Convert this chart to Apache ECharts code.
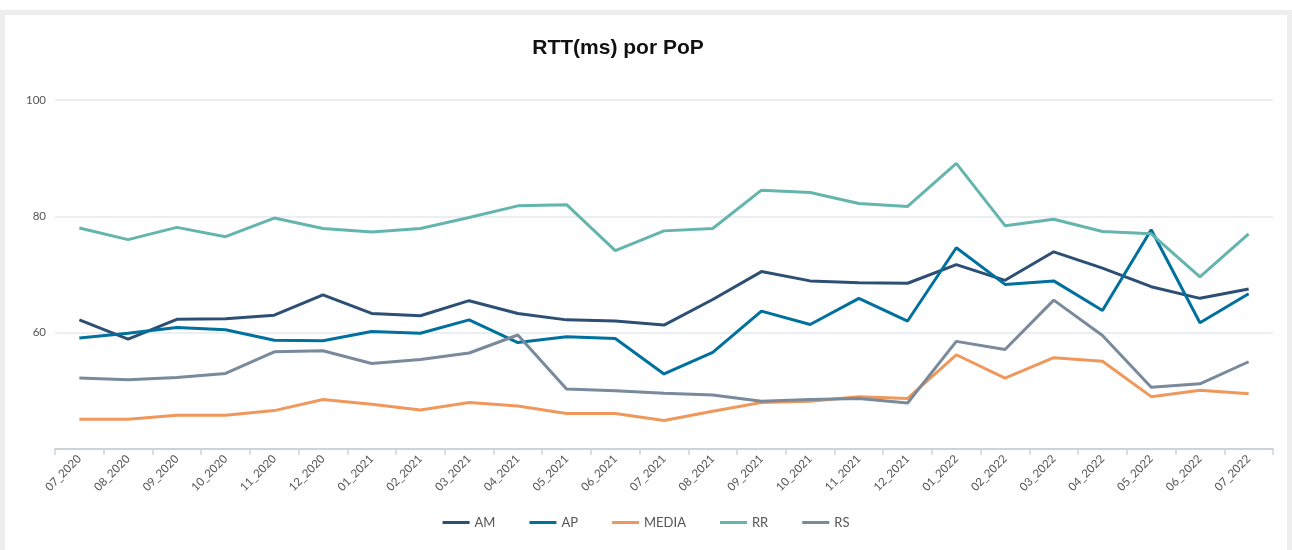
<!DOCTYPE html>
<html>
<head>
<meta charset="utf-8">
<title>RTT(ms) por PoP</title>
<script src="https://cdn.jsdelivr.net/npm/echarts@6/dist/echarts.min.js"></script>
<style>
  html, body { margin: 0; padding: 0; background: #ffffff; }
  #frame {
    position: absolute; left: 0; top: 10px; width: 1292px; height: 540px;
    box-sizing: border-box; border: 5px solid #eeeeee; border-bottom: none;
  }
  #chart { position: absolute; left: 0; top: 0; width: 1292px; height: 550px; }
</style>
</head>
<body>
<div id="frame"></div>
<div id="chart"></div>
<script>
  const months = [
    "07_2020", "08_2020", "09_2020", "10_2020", "11_2020", "12_2020",
    "01_2021", "02_2021", "03_2021", "04_2021", "05_2021", "06_2021",
    "07_2021", "08_2021", "09_2021", "10_2021", "11_2021", "12_2021",
    "01_2022", "02_2022", "03_2022", "04_2022", "05_2022", "06_2022", "07_2022"
  ];

  const am = [62.2, 58.9, 62.3, 62.4, 63.0, 66.5, 63.3, 62.9, 65.5, 63.3, 62.2, 62.0,
    61.3, 65.7, 70.5, 68.9, 68.6, 68.5, 71.7, 69.0, 73.9, 71.1, 67.9, 65.9, 67.5];
  const ap = [59.1, 59.9, 60.9, 60.5, 58.7, 58.6, 60.2, 59.9, 62.2, 58.3, 59.3, 59.0,
    52.9, 56.6, 63.7, 61.4, 65.9, 62.0, 74.6, 68.3, 68.9, 63.8, 77.7, 61.7, 66.7];
  const media = [45.1, 45.1, 45.8, 45.8, 46.6, 48.5, 47.7, 46.7, 48.0, 47.4, 46.1, 46.1,
    44.9, 46.5, 48.0, 48.2, 49.0, 48.7, 56.2, 52.2, 55.7, 55.1, 49.0, 50.1, 49.5];
  const rr = [78.0, 76.0, 78.1, 76.5, 79.7, 77.9, 77.3, 77.9, 79.8, 81.8, 82.0, 74.1,
    77.5, 77.9, 84.5, 84.1, 82.2, 81.7, 89.1, 78.4, 79.5, 77.4, 77.0, 69.6, 77.0];
  const rs = [52.2, 51.9, 52.3, 53.0, 56.7, 56.9, 54.7, 55.4, 56.5, 59.6, 50.3, 50.0,
    49.6, 49.3, 48.2, 48.5, 48.7, 47.9, 58.5, 57.1, 65.6, 59.5, 50.6, 51.2, 55.0];

  const names = ["AM", "AP", "MEDIA", "RR", "RS"];
  const colors = ["#2d4f73", "#00709e", "#f0985c", "#64b5ae", "#788a9b"];
  const values = [am, ap, media, rr, rs];

  const chart = echarts.init(document.getElementById("chart"), null, { renderer: "canvas" });

  chart.setOption({
    backgroundColor: "transparent",
    animation: false,
    color: colors,
    title: {
      text: "RTT(ms) por PoP",
      left: 613,
      top: 33,
      textAlign: "center",
      textStyle: {
        fontFamily: "Liberation Sans",
        fontWeight: "bold",
        fontSize: 21,
        color: "#111111"
      }
    },
    legend: {
      bottom: 16,
      left: "center",
      icon: "rect",
      itemWidth: 27,
      itemHeight: 3,
      itemGap: 34,
      textStyle: { fontFamily: "Lato", fontSize: 13, color: "#555555" },
      data: names
    },
    grid: { left: 55, right: 19, top: 100, bottom: 101 },
    xAxis: {
      type: "category",
      data: months,
      boundaryGap: true,
      axisLine: { lineStyle: { color: "#ccd3dc", width: 2 } },
      axisTick: { show: true, length: 6, lineStyle: { color: "#ccd3dc", width: 1.5 } },
      axisLabel: {
        rotate: 45,
        interval: 0,
        margin: 8,
        fontFamily: "Lato",
        fontSize: 11.5,
        color: "#555555"
      }
    },
    yAxis: {
      type: "value",
      min: 40,
      max: 100,
      interval: 20,
      axisLine: { show: false },
      axisTick: { show: false },
      axisLabel: {
        showMinLabel: false,
        margin: 9,
        fontFamily: "Lato",
        fontSize: 11.5,
        color: "#555555"
      },
      splitLine: { lineStyle: { color: "#e4e8ee", width: 1.5 } }
    },
    series: names.map((name, i) => ({
      name: name,
      type: "line",
      data: values[i],
      showSymbol: false,
      symbol: "none",
      lineStyle: { width: 3, color: colors[i] },
      itemStyle: { color: colors[i] }
    }))
  });
</script>
</body>
</html>
